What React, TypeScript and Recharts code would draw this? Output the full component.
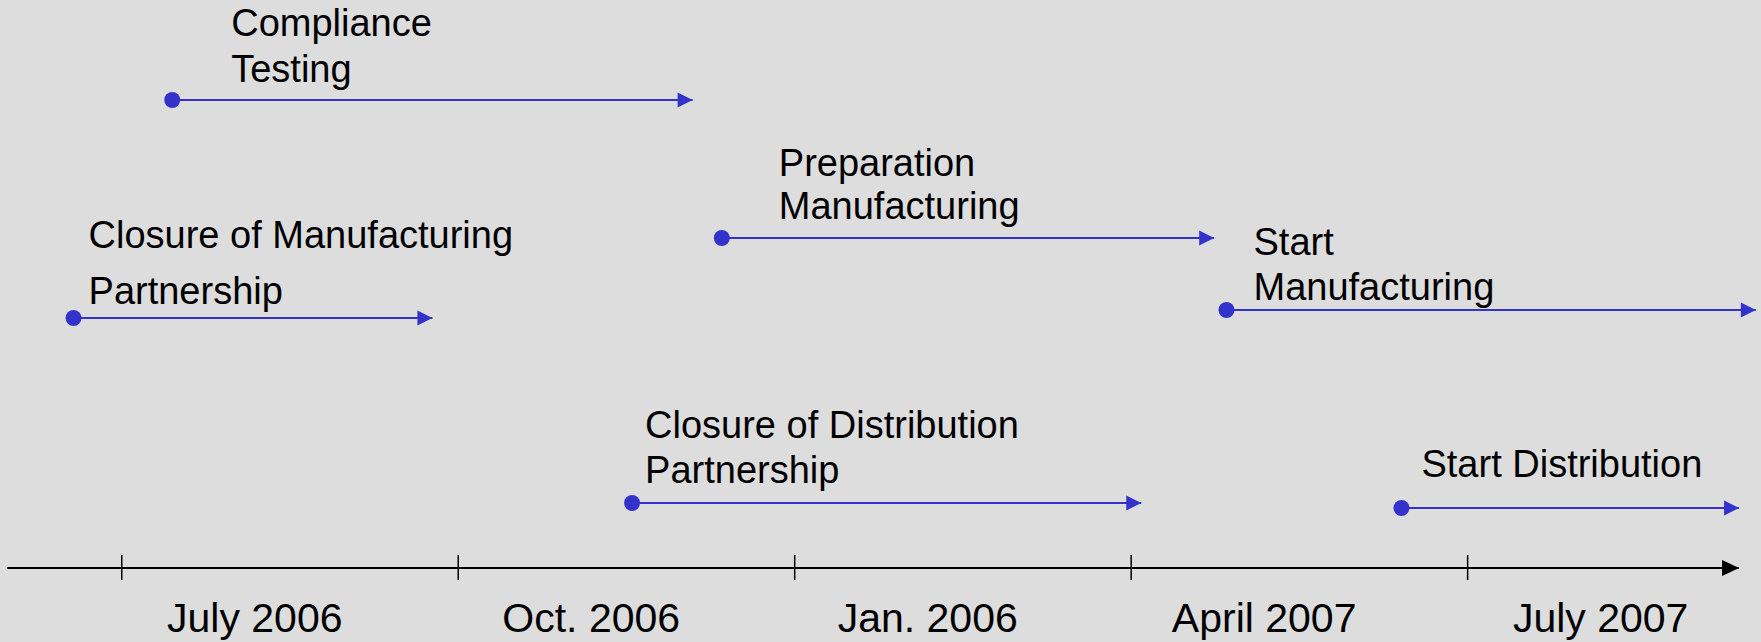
import React from 'react';
import { ComposedChart, Line, XAxis, YAxis } from 'recharts';

// months counted from July 2006 (= 0)
const TICK_VALUES = [0, 3, 6, 9, 12];
const TICK_LABELS = ['July 2006', 'Oct. 2006', 'Jan. 2006', 'April 2007', 'July 2007'];

const EVENT_LABELS = [
  ['Compliance', 'Testing'],
  ['Closure of Manufacturing', 'Partnership'],
  ['Preparation', 'Manufacturing'],
  ['Start', 'Manufacturing'],
  ['Closure of Distribution', 'Partnership'],
  ['Start Distribution'],
];
const EVENT_START = [0.45, -0.43, 5.35, 9.85, 4.55, 11.41];
const EVENT_END = [5.09, 2.77, 9.74, 14.57, 9.09, 14.42];
const EVENT_LEVEL = [4.68, 2.5, 3.3, 2.58, 0.65, 0.6];

const AXIS_START = -1.02;
const AXIS_END = 14.42;

// label placement relative to the start dot (style only)
const LABEL_LAYOUT = [
  { dx: 59, dy: [-64, -18] },
  { dx: 15, dy: [-70, -14] },
  { dx: 57, dy: [-62, -19] },
  { dx: 27, dy: [-55, -10] },
  { dx: 13, dy: [-65, -20] },
  { dx: 20, dy: [-31] },
];

const BLUE = '#3333cc';
const FONT = '"Liberation Sans", Arial, sans-serif';

const events = EVENT_LABELS.map((lines, i) => ({
  lines,
  data: [
    { x: EVENT_START[i], y: EVENT_LEVEL[i] },
    { x: EVENT_END[i], y: EVENT_LEVEL[i] },
  ],
}));

const axisData = [
  { x: AXIS_START, y: 0 },
  { x: AXIS_END, y: 0 },
];

const TimeTick = (props: any) => {
  const { x, y, index } = props;
  return (
    <g>
      <line x1={x} x2={x} y1={y - 13} y2={y + 12} stroke="#000" strokeWidth={1.5} />
      <text x={x + 133} y={y + 64} textAnchor="middle" fontSize={41} fontFamily={FONT} fill="#000">
        {TICK_LABELS[index]}
      </text>
    </g>
  );
};

const makeEventDot = (ev: number) => (props: any) => {
  const { cx, cy, index } = props;
  if (index === 0) {
    const lay = LABEL_LAYOUT[ev];
    return (
      <g key={`d${ev}-${index}`}>
        <circle cx={cx} cy={cy} r={8} fill={BLUE} />
        {EVENT_LABELS[ev].map((t, j) => (
          <text key={j} x={cx + lay.dx} y={cy + lay.dy[j]} fontSize={38} fontFamily={FONT} fill="#000">
            {t}
          </text>
        ))}
      </g>
    );
  }
  return (
    <polygon
      key={`d${ev}-${index}`}
      points={`${cx},${cy} ${cx - 15},${cy - 7.5} ${cx - 15},${cy + 7.5}`}
      fill={BLUE}
    />
  );
};

const axisArrow = (props: any) => {
  const { cx, cy, index } = props;
  if (index === 0) return <g key="a0" />;
  return (
    <polygon key="a1" points={`${cx},${cy} ${cx - 17},${cy - 8} ${cx - 17},${cy + 8}`} fill="#000" />
  );
};

export default function App() {
  return (
    <div style={{ position: 'absolute', left: 0, top: 0, width: 1761, height: 642, background: '#dddddd' }}>
      <ComposedChart width={1761} height={642} margin={{ top: 0, right: 4, bottom: 0, left: 4 }}>
        <XAxis
          type="number"
          dataKey="x"
          domain={[-1.05, 14.58]}
          ticks={TICK_VALUES}
          interval={0}
          axisLine={false}
          tickLine={false}
          tickSize={0}
          tickMargin={0}
          height={74}
          tick={<TimeTick />}
        />
        <YAxis type="number" dataKey="y" domain={[0, 5.68]} hide />
        <Line
          data={axisData}
          dataKey="y"
          stroke="#000"
          strokeWidth={2}
          dot={axisArrow}
          activeDot={false}
          isAnimationActive={false}
        />
        {events.map((ev, i) => (
          <Line
            key={i}
            data={ev.data}
            dataKey="y"
            stroke={BLUE}
            strokeWidth={2}
            dot={makeEventDot(i)}
            activeDot={false}
            isAnimationActive={false}
          />
        ))}
      </ComposedChart>
    </div>
  );
}
